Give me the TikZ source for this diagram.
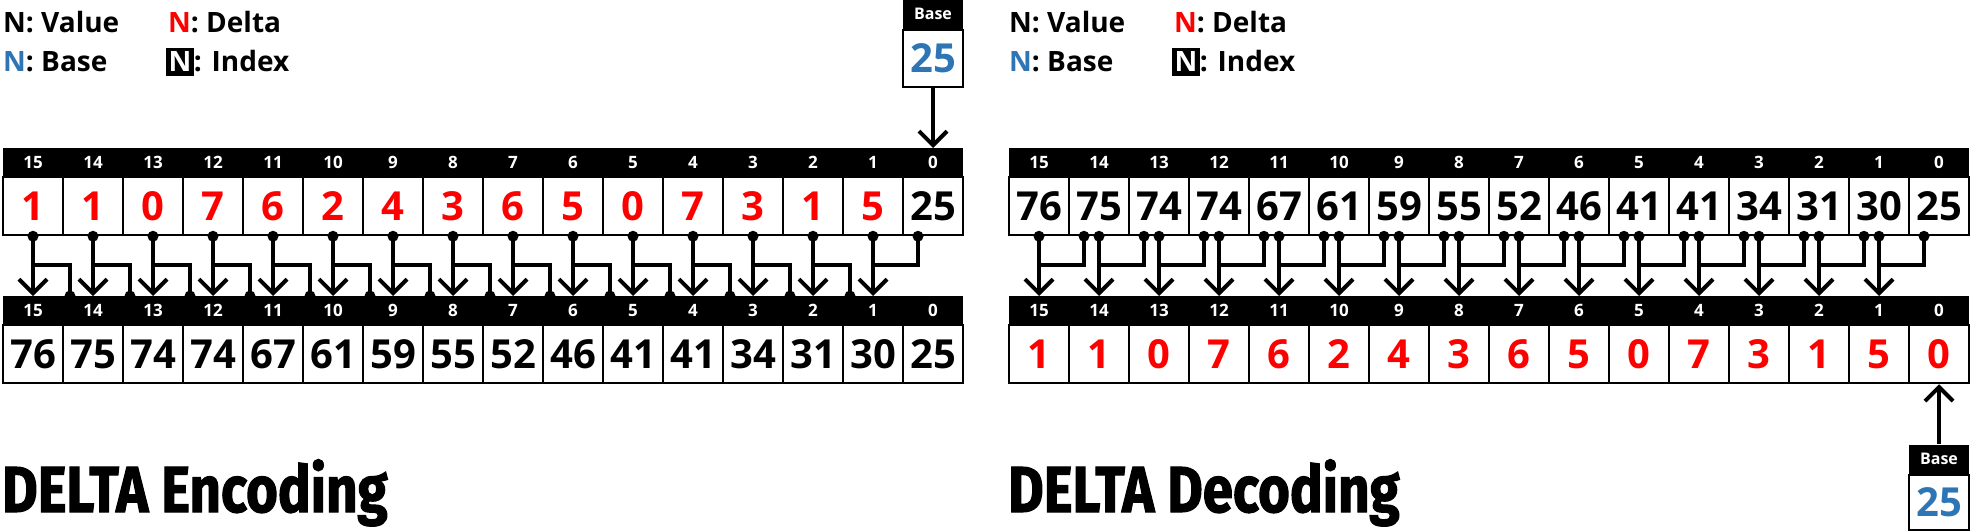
\documentclass[tikz,border=0pt]{standalone}
\usepackage{fontspec}
\setmainfont{Open Sans}
\newfontfamily\titlefont[FakeStretch=0.84,FakeBold=1.6]{Fira Sans}
\usetikzlibrary{arrows.meta,positioning,calc}
\definecolor{deltared}{RGB}{255,0,0}
\definecolor{baseblue}{RGB}{46,117,182}
\def\idxbox#1{{\setlength{\fboxsep}{4pt}\colorbox{black}{\kern-1.5pt\textcolor{white}{#1}\kern-1.5pt}}}
\tikzset{
  cell/.style={draw, line width=2.5pt, minimum width=60, minimum height=58, inner sep=0pt,
    font=\bfseries\fontsize{40}{40}\selectfont},
  band/.style={fill=black, inner sep=0pt},
  idx/.style={text=white, inner sep=0pt, font=\bfseries\fontsize{17}{17}\selectfont},
  legend/.style={anchor=base west, inner sep=0pt, font=\bfseries\fontsize{28}{28}\selectfont},
  title/.style={anchor=base west, inner sep=0pt, font=\titlefont\bfseries\fontsize{65}{65}\selectfont},
  link/.style={line width=4pt},
  feed/.style={link, -{Straight Barb[length=14pt,width=28pt]}},
  dot/.style={circle, fill=black, minimum size=11, inner sep=0pt},
}
\begin{document}
\begin{tikzpicture}[x=1pt,y=-1pt]
\useasboundingbox (0,0) rectangle (1970,532);
% ---------------- encoding ----------------
\node[legend] (e-lv) at (3,33) {N: Value};
\node[legend] (e-ld) at (168,33) {\textcolor{deltared}{N}: Delta};
\node[legend] (e-lb) at (3,72) {\textcolor{baseblue}{N}: Base};
\node[legend] (e-li) at (166,72) {\idxbox{N}: Index};
\node[band, minimum width=960, minimum height=29, anchor=north west] (e-tband) at (3,148) {};
\node[band, minimum width=960, minimum height=29, anchor=north west] (e-bband) at (3,296) {};
\foreach \v [count=\n from 0] in {1,1,0,7,6,2,4,3,6,5,0,7,3,1,5,25} {
  \pgfmathtruncatemacro\i{15-\n}
  \ifnum\i=0 \def\c{black}\else\def\c{deltared}\fi
  \node[cell, text=\c] (e-top-\i) at (33+60*\n,206) {\v};
  \node[idx] (e-ti-\i) at (33+60*\n,162.5) {\i};
}
\foreach \v [count=\n from 0] in {76,75,74,74,67,61,59,55,52,46,41,41,34,31,30,25} {
  \pgfmathtruncatemacro\i{15-\n}
  \node[cell] (e-bot-\i) at (33+60*\n,354) {\v};
  \node[idx] (e-bi-\i) at (33+60*\n,310.5) {\i};
}
\coordinate (e-rail) at (0,265);
% delta goes straight down
\foreach \i in {1,...,15} {
  \draw[feed] (e-top-\i.south) -- (e-bband.north -| e-top-\i);
  \node[dot] (e-dt-\i) at (e-top-\i.south) {};
}
% previous value joins in
\foreach \k in {1,...,14} {
  \pgfmathtruncatemacro\j{\k+1}
  \coordinate (e-in-\k) at ($(e-bband.north -| e-bot-\k)+(-23,0)$);
  \draw[link] (e-in-\k) |- (e-top-\j |- e-rail);
  \node[dot] (e-db-\k) at (e-in-\k) {};
}
\coordinate (e-in-0) at ($(e-top-0.south)+(-15,0)$);
\draw[link] (e-in-0) |- (e-top-1 |- e-rail);
\node[dot] (e-db-0) at (e-in-0) {};
% base
\node[cell, minimum height=57, text=baseblue] (e-base) at (933,58.5) {25};
\node[band, minimum width=60, minimum height=29, above=0pt of e-base, idx, font=\bfseries\fontsize{16}{16}\selectfont] (e-basehd) {Base};
\draw[feed] (e-base.south) -- (e-tband.north -| e-base);
\node[title] (e-title) at (2,512) {DELTA Encoding};
% ---------------- decoding ----------------
\node[legend] (d-lv) at (1009,33) {N: Value};
\node[legend] (d-ld) at (1174,33) {\textcolor{deltared}{N}: Delta};
\node[legend] (d-lb) at (1009,72) {\textcolor{baseblue}{N}: Base};
\node[legend] (d-li) at (1172,72) {\idxbox{N}: Index};
\node[band, minimum width=960, minimum height=29, anchor=north west] (d-tband) at (1009,148) {};
\node[band, minimum width=960, minimum height=29, anchor=north west] (d-bband) at (1009,296) {};
\foreach \v [count=\n from 0] in {76,75,74,74,67,61,59,55,52,46,41,41,34,31,30,25} {
  \pgfmathtruncatemacro\i{15-\n}
  \node[cell] (d-top-\i) at (1039+60*\n,206) {\v};
  \node[idx] (d-ti-\i) at (1039+60*\n,162.5) {\i};
}
\foreach \v [count=\n from 0] in {1,1,0,7,6,2,4,3,6,5,0,7,3,1,5,0} {
  \pgfmathtruncatemacro\i{15-\n}
  \node[cell, text=deltared] (d-bot-\i) at (1039+60*\n,354) {\v};
  \node[idx] (d-bi-\i) at (1039+60*\n,310.5) {\i};
}
\coordinate (d-rail) at (0,265);
% value goes straight down
\foreach \i in {1,...,15} {
  \draw[feed] (d-top-\i.south) -- (d-bband.north -| d-top-\i);
  \node[dot] (d-dt-\i) at (d-top-\i.south) {};
}
% previous value is taken off
\foreach \k in {0,...,14} {
  \pgfmathtruncatemacro\j{\k+1}
  \coordinate (d-out-\k) at ($(d-top-\k.south)+(-15,0)$);
  \draw[link] (d-out-\k) |- (d-top-\j |- d-rail);
  \node[dot] (d-do-\k) at (d-out-\k) {};
}
% base
\node[cell, minimum height=55, text=baseblue] (d-base) at (1939,502.5) {25};
\node[band, minimum width=60, minimum height=29, above=0pt of d-base, idx, font=\bfseries\fontsize{16}{16}\selectfont] (d-basehd) {Base};
\draw[feed] (d-basehd.north) -- (d-bot-0.south);
\node[title] (d-title) at (1008,512) {DELTA Decoding};
\end{tikzpicture}
\end{document}
